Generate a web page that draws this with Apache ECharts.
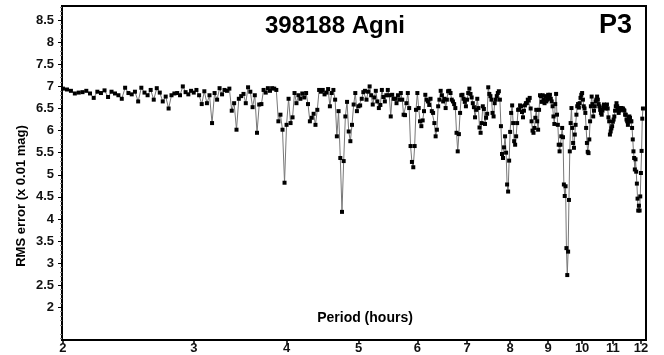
<!DOCTYPE html>
<html>
<head>
<meta charset="utf-8">
<script src="https://cdn.jsdelivr.net/npm/echarts@6/dist/echarts.min.js"></script>
<style>
html,body{margin:0;padding:0;background:#fff;}
#chart{width:664px;height:355px;}
</style>
</head>
<body>
<div id="chart"></div>
<script>
const periods = [
2.000,2.025,2.050,2.075,2.100,2.125,2.150,2.175,2.200,2.225,2.250,2.275,2.300,2.325,2.350,2.375,2.400,2.425,2.450,2.475,
2.500,2.525,2.550,2.575,2.600,2.625,2.650,2.675,2.700,2.725,2.750,2.775,2.800,2.825,2.850,2.875,2.900,2.925,2.950,2.975,
3.000,3.025,3.050,3.075,3.100,3.125,3.150,3.175,3.200,3.225,3.250,3.275,3.300,3.325,3.350,3.375,3.400,3.425,3.450,3.475,
3.500,3.525,3.550,3.575,3.600,3.625,3.650,3.675,3.700,3.725,3.750,3.775,3.800,3.825,3.850,3.875,3.900,3.925,3.950,3.975,
4.000,4.025,4.050,4.075,4.100,4.125,4.150,4.175,4.200,4.225,4.250,4.275,4.300,4.325,4.350,4.375,4.400,4.425,4.450,4.475,
4.500,4.525,4.550,4.575,4.600,4.625,4.650,4.675,4.700,4.725,4.750,4.775,4.800,4.825,4.850,4.875,4.900,4.925,4.950,4.975,
5.000,5.025,5.050,5.075,5.100,5.125,5.150,5.175,5.200,5.225,5.250,5.275,5.300,5.325,5.350,5.375,5.400,5.425,5.450,5.475,
5.500,5.525,5.550,5.575,5.600,5.625,5.650,5.675,5.700,5.725,5.750,5.775,5.800,5.825,5.850,5.875,5.900,5.925,5.950,5.975,
6.000,6.025,6.050,6.075,6.100,6.125,6.150,6.175,6.200,6.225,6.250,6.275,6.300,6.325,6.350,6.375,6.400,6.425,6.450,6.475,
6.500,6.525,6.550,6.575,6.600,6.625,6.650,6.675,6.700,6.725,6.750,6.775,6.800,6.825,6.850,6.875,6.900,6.925,6.950,6.975,
7.000,7.025,7.050,7.075,7.100,7.125,7.150,7.175,7.200,7.225,7.250,7.275,7.300,7.325,7.350,7.375,7.400,7.425,7.450,7.475,
7.500,7.525,7.550,7.575,7.600,7.625,7.650,7.675,7.700,7.725,7.750,7.775,7.800,7.825,7.850,7.875,7.900,7.925,7.950,7.975,
8.000,8.025,8.050,8.075,8.100,8.125,8.150,8.175,8.200,8.225,8.250,8.275,8.300,8.325,8.350,8.375,8.400,8.425,8.450,8.475,
8.500,8.525,8.550,8.575,8.600,8.625,8.650,8.675,8.700,8.725,8.750,8.775,8.800,8.825,8.850,8.875,8.900,8.925,8.950,8.975,
9.000,9.025,9.050,9.075,9.100,9.125,9.150,9.175,9.200,9.225,9.250,9.275,9.300,9.325,9.350,9.375,9.400,9.425,9.450,9.475,
9.500,9.525,9.550,9.575,9.600,9.625,9.650,9.675,9.700,9.725,9.750,9.775,9.800,9.825,9.850,9.875,9.900,9.925,9.950,9.975,
10.000,10.025,10.050,10.075,10.100,10.125,10.150,10.175,10.200,10.225,10.250,10.275,10.300,10.325,10.350,10.375,10.400,10.425,10.450,10.475,
10.500,10.525,10.550,10.575,10.600,10.625,10.650,10.675,10.700,10.725,10.750,10.775,10.800,10.825,10.850,10.875,10.900,10.925,10.950,10.975,
11.000,11.025,11.050,11.075,11.100,11.125,11.150,11.175,11.200,11.225,11.250,11.275,11.300,11.325,11.350,11.375,11.400,11.425,11.450,11.475,
11.500,11.525,11.550,11.575,11.600,11.625,11.650,11.675,11.700,11.725,11.750,11.775,11.800,11.825,11.850,11.875,11.900,11.925,11.950,11.975,
12.000,12.025,12.050,12.075
];

const rmsError = [
6.95,6.93,6.90,6.84,6.86,6.87,6.90,6.84,6.74,6.88,6.85,6.91,6.76,6.88,6.84,6.80,6.72,6.97,6.85,6.82,
6.88,6.66,6.97,6.86,6.80,6.92,6.70,6.96,6.86,6.66,6.77,6.50,6.80,6.84,6.85,6.80,7.00,6.87,6.82,6.90,
6.86,6.92,6.80,6.60,6.89,6.62,6.80,6.17,6.85,6.70,6.96,6.82,6.92,6.90,6.95,6.45,6.62,6.02,6.72,6.78,
6.83,6.62,6.98,6.88,6.53,6.80,5.95,6.59,6.60,6.92,6.86,6.96,6.90,6.96,6.95,6.92,6.21,6.36,6.02,4.82,
6.13,6.72,6.17,6.30,6.85,6.62,6.80,6.72,6.84,6.75,6.85,6.60,6.21,6.29,6.38,6.13,6.47,6.92,6.88,6.92,
6.82,6.86,6.94,6.55,6.85,6.92,6.70,5.87,6.44,5.38,4.16,5.31,6.32,6.65,5.98,5.76,6.13,6.59,6.85,6.44,
6.55,6.57,6.72,6.87,6.90,6.70,6.88,7.00,6.80,6.59,6.75,6.90,6.66,6.51,6.58,6.92,6.76,6.66,6.80,6.92,
6.80,6.32,6.81,6.72,6.72,6.62,6.80,6.70,6.85,6.70,6.36,6.35,6.62,6.85,6.51,5.65,5.29,5.17,5.65,6.47,
6.85,6.51,6.21,6.10,6.23,6.44,6.81,6.70,6.66,6.58,6.72,6.44,6.40,6.17,5.87,6.02,6.55,6.70,6.90,6.80,
6.66,6.72,6.51,6.70,6.89,6.90,6.85,6.70,6.66,6.60,6.51,5.95,5.53,5.92,6.40,6.80,6.81,6.72,6.65,6.55,
6.70,6.85,6.95,6.83,6.75,6.62,6.53,6.30,6.47,6.72,6.51,6.07,5.95,6.17,6.55,6.49,6.15,6.29,6.38,6.98,
6.83,6.78,6.70,6.40,6.32,6.62,6.70,6.78,6.85,6.89,6.70,6.10,5.47,5.38,5.62,5.87,5.50,4.78,4.62,5.32,
5.97,6.40,6.57,6.17,5.76,5.68,5.87,6.17,6.47,6.48,6.57,6.55,6.42,6.30,6.45,6.57,6.62,6.62,6.70,6.68,
6.74,6.50,6.21,6.00,5.95,6.06,6.29,6.47,6.21,6.02,6.47,6.80,6.78,6.65,6.80,6.70,6.62,6.78,6.66,6.70,
6.81,6.76,6.81,6.72,6.66,6.55,6.32,6.15,6.60,6.83,6.36,6.13,5.68,5.53,5.68,5.87,6.06,5.85,4.78,4.52,
4.74,3.34,2.73,3.26,4.43,5.53,6.17,6.51,6.06,5.72,5.61,5.91,6.13,6.36,6.55,6.60,6.52,6.62,6.74,6.81,
6.85,6.70,6.55,6.50,6.40,6.06,5.72,5.52,5.49,5.80,6.21,6.55,6.77,6.60,6.32,6.45,6.55,6.66,6.70,6.77,
6.70,6.60,6.55,6.47,6.40,6.36,6.45,6.52,6.59,6.55,6.50,6.55,6.59,6.50,6.30,6.21,5.91,5.98,6.05,6.10,
6.20,6.25,6.32,6.45,6.55,6.62,6.55,6.47,6.40,6.45,6.47,6.51,6.51,6.48,6.50,6.47,6.45,6.36,6.36,6.25,
6.21,6.13,6.29,6.32,6.29,6.21,6.21,6.06,5.80,5.53,5.38,5.12,5.35,5.07,4.80,4.46,4.19,4.30,4.19,4.51,
5.04,5.54,6.27,6.50
];

const xTickLabels = [2,3,4,5,6,7,8,9,10,11,12];
const yTickLabels = [2,2.5,3,3.5,4,4.5,5,5.5,6,6.5,7,7.5,8,8.5];
const yMinorTicks = [1.3,1.4,1.6,1.7,1.8,1.9,2.1,2.2,2.3,2.4,2.6,2.7,2.8,2.9,3.1,3.2,3.3,3.4,3.6,3.7,3.8,3.9,
4.1,4.2,4.3,4.4,4.6,4.7,4.8,4.9,5.1,5.2,5.3,5.4,5.6,5.7,5.8,5.9,6.1,6.2,6.3,6.4,6.6,6.7,6.8,6.9,
7.1,7.2,7.3,7.4,7.6,7.7,7.8,7.9,8.1,8.2,8.3,8.4,8.6,8.7,8.8];

const titleText = '398188 Agni';
const tagText = 'P3';
const xName = 'Period (hours)';
const yName = 'RMS error (x 0.01 mag)';

const FONT = '"Liberation Sans", Arial, sans-serif';
const chart = echarts.init(document.getElementById('chart'));
const seriesData = periods.map((p, i) => [p, rmsError[i]]);

chart.setOption({
  animation: false,
  grid: {left: 62, right: 18, top: 6, bottom: 14, show: true, borderColor: '#000', borderWidth: 2, backgroundColor: 'transparent'},
  xAxis: {
    type: 'log', min: 1.994, max: 12.19,
    axisLine: {show: true, lineStyle: {color: '#000', width: 2}},
    axisTick: {show: true, length: 4, lineStyle: {color: '#000', width: 1.5}, customValues: xTickLabels},
    axisLabel: {customValues: xTickLabels, color: '#111', fontFamily: FONT, fontWeight: 'bold', fontSize: 13, margin: 2, formatter: v => String(v)},
    splitLine: {show: false}
  },
  yAxis: [{
    type: 'value', min: 1.26, max: 8.82,
    axisLine: {show: true, lineStyle: {color: '#000', width: 2}},
    axisTick: {show: true, length: 4, lineStyle: {color: '#000', width: 1}, customValues: yTickLabels},
    axisLabel: {customValues: yTickLabels, color: '#111', fontFamily: FONT, fontWeight: 'bold', fontSize: 13, margin: 8, formatter: v => String(v)},
    splitLine: {show: false}
  }, {
    type: 'value', min: 1.26, max: 8.82, position: 'left',
    axisLine: {show: false},
    axisTick: {show: true, length: 2, lineStyle: {color: '#888', width: 1}, customValues: yMinorTicks},
    axisLabel: {show: false},
    splitLine: {show: false}
  }],
  series: [{
    type: 'line',
    data: seriesData,
    yAxisIndex: 0,
    symbol: 'rect',
    symbolSize: 4,
    showAllSymbol: true,
    itemStyle: {color: '#000'},
    lineStyle: {color: '#777', width: 1},
    z: 3
  }],
  graphic: [
    {type: 'text', x: 335, y: 26, style: {text: titleText, fill: '#000', font: 'bold 24px ' + FONT, textAlign: 'center', textVerticalAlign: 'middle'}},
    {type: 'text', x: 632, y: 26, style: {text: tagText, fill: '#000', font: 'bold 27px ' + FONT, textAlign: 'right', textVerticalAlign: 'middle'}},
    {type: 'text', x: 365, y: 318, style: {text: xName, fill: '#000', font: 'bold 14px ' + FONT, textAlign: 'center', textVerticalAlign: 'middle'}},
    {type: 'text', x: 21, y: 196, rotation: Math.PI / 2, style: {text: yName, fill: '#000', font: 'bold 13px ' + FONT, textAlign: 'center', textVerticalAlign: 'middle'}}
  ]
});
</script>
</body>
</html>
